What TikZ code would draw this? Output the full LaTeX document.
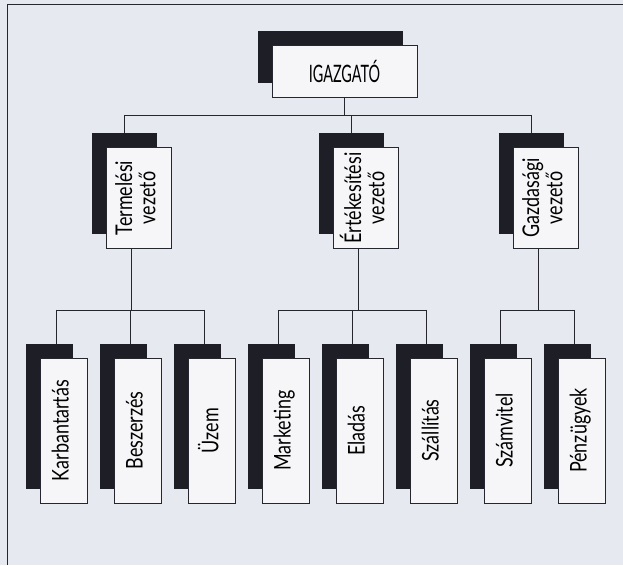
\documentclass[tikz,border=0pt]{standalone}
\usepackage{fontspec}
\newfontfamily\orgfont[FakeStretch=0.78]{Lato}
\newfontfamily\capfont[FakeStretch=0.6]{Lato}
\usetikzlibrary{positioning,shadows}
\definecolor{paper}{HTML}{E7E9F1}
\definecolor{ink}{HTML}{26262E}
\definecolor{shade}{HTML}{1E1E26}
\definecolor{card}{HTML}{F6F6F8}
\newcommand{\vlabel}[1]{\rotatebox{90}{\begin{tabular}{@{}c@{}}#1\end{tabular}}}

\begin{document}
\begin{tikzpicture}[x=1pt,y=1pt,line width=.9pt]
  \tikzset{
    card/.style={draw=ink,fill=card,inner sep=0pt,
        font=\orgfont\fontsize{23}{22}\selectfont,
        general shadow={fill=shade,shadow xshift=-14pt,shadow yshift=14pt}},
    boss/.style={card,minimum width=145pt,minimum height=52pt,
        font=\capfont\fontsize{24}{24}\selectfont},
    chief/.style={card,minimum width=65pt,minimum height=101pt},
    unit/.style={card,minimum width=47pt,minimum height=145pt},
    wire/.style={draw=ink,line width=.8pt}
  }
  \fill[paper] (0,0) rectangle (623,565);
  \useasboundingbox (0,0) rectangle (623,565);
  \draw[ink,line width=1pt] (7,0)--(7,560)--(623,560);

  \node[boss] (igaz) at (344.5,494) {IGAZGATÓ};
  \node[chief] (ter) at (138.5,367) {\vlabel{Termelési\\vezető}};
  \node[chief] (ert) at (365.5,367) {\vlabel{Értékesítési\\vezető}};
  \node[chief] (gaz) at (545.5,367) {\vlabel{Gazdasági\\vezető}};

  \foreach \n/\lbl [count=\i from 0] in {karb/Karbantartás,besz/Beszerzés,
      uzem/Üzem,mark/Marketing,elad/Eladás,szal/Szállítás,szam/Számvitel,
      penz/Pénzügyek}
    \node[unit] (\n) at (63.5+74*\i,134.5) {\vlabel{\lbl}};

  \coordinate (upbus) at (0,450);
  \coordinate (lowbus) at (0,255);
  \foreach \m in {ter,ert,gaz}{
      \coordinate (\m-in) at ([xshift=-14pt,yshift=14pt]\m.north);
      \coordinate (\m-out) at ([xshift=-7pt]\m.south);
    }
  \foreach \n in {karb,besz,uzem,mark,elad,szal,szam,penz}
    \coordinate (\n-in) at ([xshift=-7pt,yshift=14pt]\n.north);

  \draw[wire] (igaz.south)--(igaz.south |- upbus);
  \draw[wire] (ter-in |- upbus)--(gaz-in |- upbus);
  \foreach \m in {ter,ert,gaz}
    \draw[wire] (\m-in |- upbus)--(\m-in);

  \foreach \m/\a/\b in {ter/karb/uzem,ert/mark/szal,gaz/szam/penz}{
      \draw[wire] (\m-out)--(\m-out |- lowbus);
      \draw[wire] (\a-in |- lowbus)--(\b-in |- lowbus);
    }
  \foreach \n in {karb,besz,uzem,mark,elad,szal,szam,penz}
    \draw[wire] (\n-in |- lowbus)--(\n-in);
\end{tikzpicture}
\end{document}
